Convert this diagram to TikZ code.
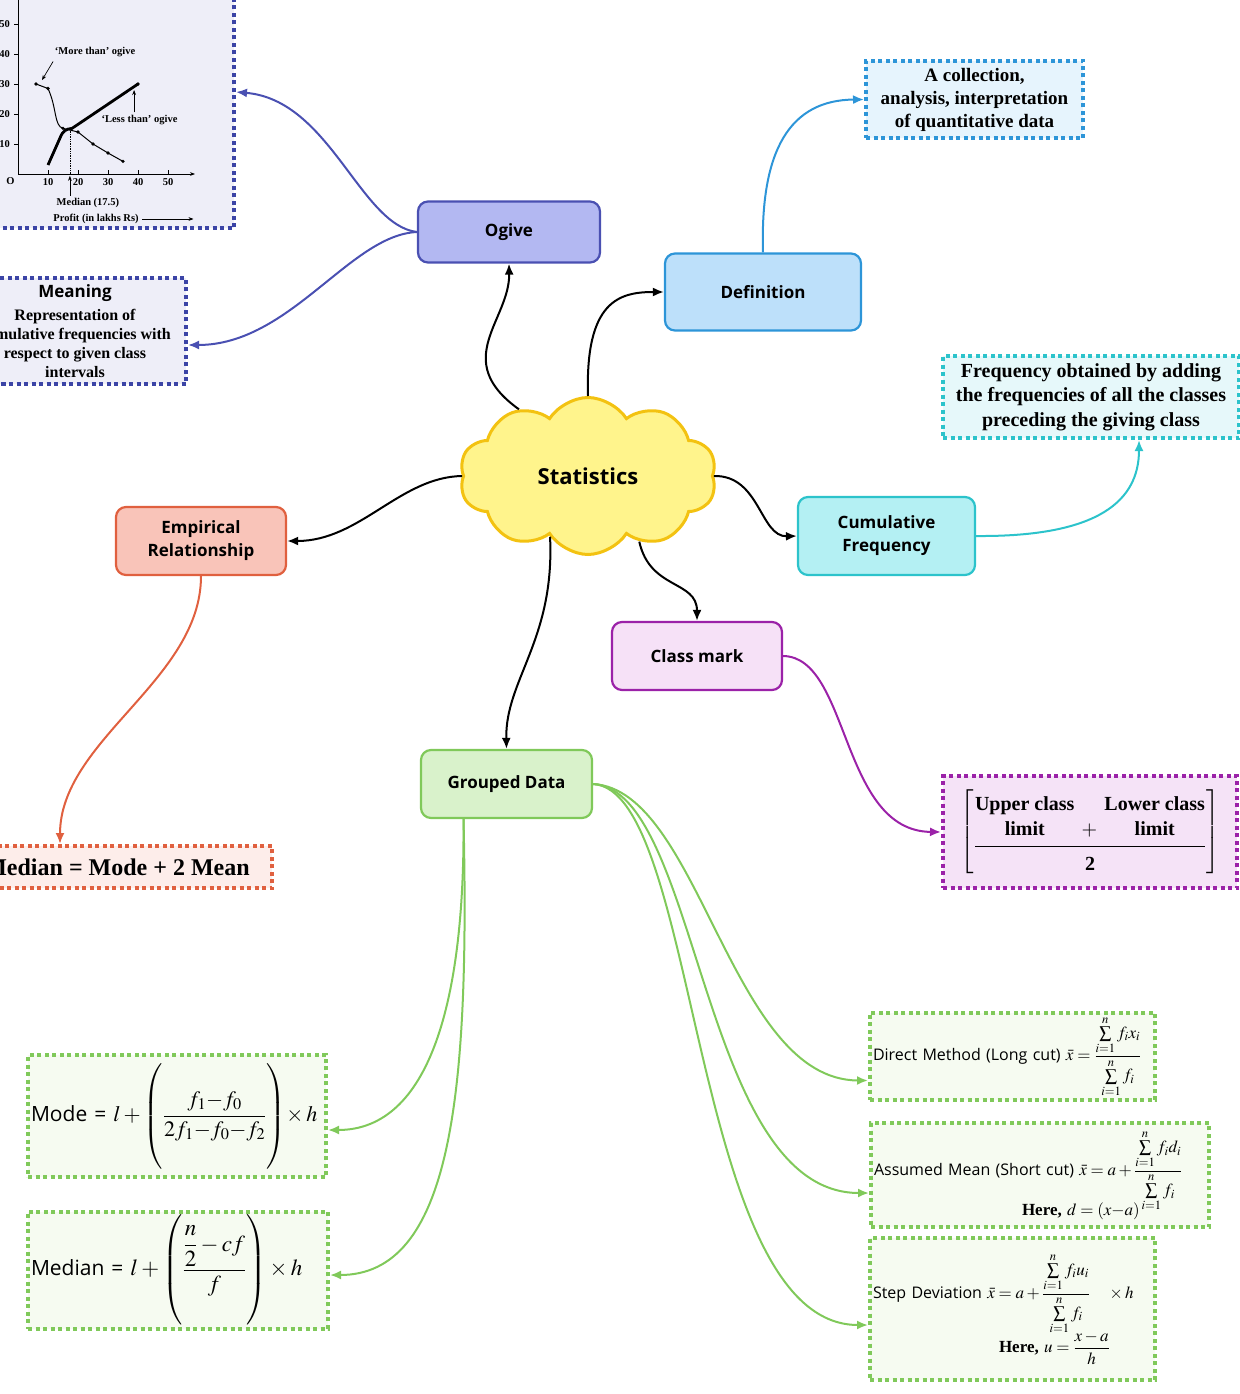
\documentclass[tikz,border=0pt]{standalone}
\usepackage{amsmath}
\usepackage{mathptmx}
\usepackage{fontspec}
\setmainfont{Liberation Serif}
\setsansfont{Open Sans}
\usetikzlibrary{shapes.symbols,arrows.meta}

\definecolor{ogivefill}{HTML}{B3B8F2}
\definecolor{ogiveline}{HTML}{4A50B2}
\definecolor{ogivenote}{HTML}{EEEEF8}
\definecolor{ogivedot}{HTML}{3B44A6}
\definecolor{deffill}{HTML}{BDE0FA}
\definecolor{defline}{HTML}{2D95D8}
\definecolor{defnote}{HTML}{E6F4FD}
\definecolor{cumfill}{HTML}{B4F0F3}
\definecolor{cumline}{HTML}{2CC3CB}
\definecolor{cumnote}{HTML}{E6F8FA}
\definecolor{empfill}{HTML}{F9C4B9}
\definecolor{empline}{HTML}{E0603F}
\definecolor{empnote}{HTML}{FDEDEA}
\definecolor{classfill}{HTML}{F6E1F7}
\definecolor{classline}{HTML}{9B22A8}
\definecolor{classnote}{HTML}{F5E3F7}
\definecolor{groupfill}{HTML}{D9F2CB}
\definecolor{groupline}{HTML}{80C95A}
\definecolor{groupnote}{HTML}{F6FBF1}
\definecolor{statfill}{HTML}{FFF48C}
\definecolor{statline}{HTML}{F3C211}

\begin{document}
\begin{tikzpicture}[x=1pt,y=-1pt,
>={Latex[length=11pt,width=9pt]},
topic/.style={rectangle, rounded corners=10pt, line width=2.2pt, font=\sffamily\bfseries\fontsize{17}{23}\selectfont, align=center},
notebox/.style={rectangle, line width=4pt, dash pattern=on 4pt off 3.5pt, align=center, font=\bfseries\fontsize{19}{23}\selectfont},
formula/.style={notebox, draw=groupline, fill=groupnote, align=left, inner xsep=3pt, font=\sffamily\fontsize{16}{20}\selectfont},
link/.style={->, line width=2pt},
]
\useasboundingbox (0,0) rectangle (1239,1394);

\node[cloud, cloud puffs=10, cloud puff arc=115, aspect=1.64, draw=statline, fill=statfill, line width=3pt,
      minimum width=257pt, minimum height=157pt, font=\sffamily\bfseries\fontsize{22}{26}\selectfont] (stat) at (588,476) {Statistics};

\node[topic, draw=ogiveline, fill=ogivefill, minimum width=182pt, minimum height=61pt] (ogive) at (509,232) {Ogive};
\node[topic, draw=defline, fill=deffill, minimum width=196pt, minimum height=77pt] (def) at (763,292) {Definition};
\node[topic, draw=cumline, fill=cumfill, minimum width=177pt, minimum height=78pt] (cum) at (886.5,536) {Cumulative\\Frequency};
\node[topic, draw=empline, fill=empfill, minimum width=170pt, minimum height=68pt] (emp) at (201,541) {Empirical\\Relationship};
\node[topic, draw=classline, fill=classfill, minimum width=170pt, minimum height=68pt] (class) at (697,656) {Class mark};
\node[topic, draw=groupline, fill=groupfill, minimum width=171pt, minimum height=68pt] (grouped) at (506.5,784) {Grouped Data};

\node[notebox, draw=ogivedot, fill=ogivenote, minimum width=254pt, minimum height=248pt] (chart) at (107,104) {};
\node[notebox, draw=ogivedot, fill=ogivenote, minimum width=222pt, minimum height=106pt, font=\bfseries\fontsize{16}{19}\selectfont] (meaning) at (75,331)
  {{\sffamily\fontsize{17}{20}\selectfont Meaning}\\[4pt]Representation of\\cumulative frequencies with\\respect to given class\\intervals};
\node[notebox, draw=defline, fill=defnote, minimum width=217pt, minimum height=77pt] (defnote) at (974.5,99.5)
  {A collection,\\analysis, interpretation\\of quantitative data};
\node[notebox, draw=cumline, fill=cumnote, minimum width=296pt, minimum height=82pt, font=\bfseries\fontsize{20}{24.5}\selectfont] (cumnote) at (1091,397)
  {Frequency obtained by adding\\the frequencies of all the classes\\preceding the giving class};
\node[notebox, draw=empline, fill=empnote, minimum width=310pt, minimum height=42pt, font=\bfseries\fontsize{24}{26}\selectfont] (empnote) at (117,867)
  {Median = Mode + 2 Mean};
\node[notebox, draw=classline, fill=classnote, minimum width=294pt, minimum height=112pt, inner xsep=1pt, font=\bfseries\fontsize{20}{25}\selectfont] (classnote) at (1090,832)
  {$\left[\vcenter{\hbox{$\dfrac{\text{\begin{tabular}[b]{@{}c@{}}Upper class\\limit\end{tabular}}\;+\;\text{\begin{tabular}[b]{@{}c@{}}Lower class\\limit\end{tabular}}}{\rule{0pt}{22pt}\text{2}}$}}\right]$};

\node[formula, minimum width=298pt, minimum height=122pt, text width=292pt, font=\sffamily\fontsize{21}{26}\selectfont] (mode) at (177,1116)
  {\mbox{Mode = {\fontsize{22}{26}\selectfont$l+\left(\rule[-46pt]{0pt}{100pt}\dfrac{f_1{-}f_0}{2f_1{-}f_0{-}f_2}\right)\!\times h$}}};
\node[formula, minimum width=300pt, minimum height=116pt, text width=294pt, font=\sffamily\fontsize{21}{26}\selectfont] (median) at (178,1270)
  {\mbox{Median = {\fontsize{23}{28}\selectfont$l+\left(\rule[-48pt]{0pt}{100pt}\dfrac{\dfrac{n}{2}-cf}{f}\right)\times h$}}};
\node[formula, minimum width=285pt, minimum height=83pt, text width=279pt] (direct) at (1012.5,1056.5)
  {Direct Method (Long cut) {\fontsize{17}{20}\selectfont$\bar{x}=\dfrac{\sum\limits_{i=1}^{n}f_ix_i}{\sum\limits_{i=1}^{n}f_i}$}};
\node[formula, minimum width=338pt, minimum height=104pt, text width=332pt] (assumed) at (1040,1175)
  {Assumed Mean (Short cut) {\fontsize{17}{20}\selectfont$\bar{x}=a+\dfrac{\sum\limits_{i=1}^{n}f_id_i}{\sum\limits_{i=1}^{n}f_i}$}\\[-10pt]
   \hspace*{148pt}{\rmfamily\bfseries\fontsize{17}{20}\selectfont Here, $d=(x{-}a)$}};
\node[formula, minimum width=285pt, minimum height=142pt, text width=279pt] (step) at (1012.5,1309)
  {Step Deviation {\fontsize{17}{20}\selectfont$\bar{x}=a+\dfrac{\sum\limits_{i=1}^{n}f_iu_i}{\sum\limits_{i=1}^{n}f_i}\quad\times h$}\\[-4pt]
   \hspace*{126pt}{\rmfamily\bfseries\fontsize{17}{20}\selectfont Here, $u=\dfrac{x-a}{h}$}};

\begin{scope}[shift={(18,174)}, x=3pt, y=3pt, font=\bfseries\fontsize{10.5}{12}\selectfont, >={Stealth[length=5pt]}]
\draw[->, line width=0.8pt] (0,0) -- (59,0);
\draw[line width=0.8pt] (0,0) -- (0,60);
\foreach \v in {10,20,...,50} {
  \draw[line width=0.8pt] (\v,0) -- (\v,1.2);
  \draw[line width=0.8pt] (0,\v) -- (-1.2,\v);
  \node[below=1pt] (xt\v) at (\v,0) {\v};
  \node[left=1pt] (yt\v) at (-1.2,\v) {\v};
}
\node[anchor=north east] (orig) at (0,0) {O};
\draw[line width=2.8pt, line join=round] (10,3) -- (14,12) .. controls (15,14.5) and (16,15) .. (18,15.2) -- (40,30);
\draw[line width=1pt] (6,30) -- (10,28.5) .. controls (13,22) and (12,16) .. (15,15.2) -- (20,14) -- (25,10) -- (30,7) -- (35,4.2);
\foreach \p in {(6,30),(10,28.5),(15,15.2),(20,14),(25,10),(30,7),(35,4.2),(40,30)}
  \fill \p circle (0.6);
\draw[densely dotted, line width=0.7pt] (17.5,15) -- (17.5,0);
\node (moretxt) at (25.7,40.7) {`More than' ogive};
\draw[->, line width=0.7pt] (11.7,37.5) -- (8,31.3);
\node (lesstxt) at (40.5,18) {`Less than' ogive};
\draw[->, line width=0.7pt] (38.7,20.5) -- (38.7,28);
\node (medtxt) at (23.3,-9.7) {Median (17.5)};
\draw[->, line width=0.7pt] (17.3,-7.3) -- (17.3,-0.6);
\node (profit) at (26,-15) {Profit (in lakhs Rs)};
\draw[->, line width=0.7pt] (profit.east) -- (58.5,-15);
\end{scope}

\draw[link] (stat.136) .. controls (450,360) and (510,320) .. (ogive.south);
\draw[link] (stat.90) .. controls (585,300) and (620,292) .. (def.west);
\draw[link] (stat.180) .. controls (400,477) and (360,541) .. (emp.east);
\draw[link] (stat.0) .. controls (760,475) and (760,537) .. (cum.west);
\draw[link] (stat.-52) .. controls (650,590) and (697,580) .. (class.north);
\draw[link] (stat.-122) .. controls (555,640) and (505,680) .. (grouped.north);

\draw[link, ogiveline] (ogive.west) .. controls (360,225) and (330,100) .. ([yshift=12pt]chart.east);
\draw[link, ogiveline] (ogive.west) .. controls (350,235) and (290,345) .. ([yshift=-14pt]meaning.east);
\draw[link, defline] (def.north) .. controls (760,150) and (790,100) .. (defnote.west);
\draw[link, cumline] (cum.east) .. controls (1100,537) and (1139,500) .. ([xshift=48pt]cumnote.south);
\draw[link, empline] (emp.south) .. controls (201,680) and (60,740) .. ([xshift=-57pt]empnote.north);
\draw[link, classline] (class.east) .. controls (850,657) and (840,831) .. (classnote.west);

\draw[link, groupline] ([xshift=-43pt]grouped.south) .. controls (465,1000) and (430,1130) .. ([yshift=-14pt]mode.east);
\draw[link, groupline] ([xshift=-43pt]grouped.south) .. controls (470,1100) and (450,1275) .. ([yshift=-5pt]median.east);
\draw[link, groupline] (grouped.east) .. controls (700,790) and (730,1080) .. ([yshift=-24pt]direct.west);
\draw[link, groupline] (grouped.east) .. controls (700,790) and (700,1193) .. ([yshift=-18pt]assumed.west);
\draw[link, groupline] (grouped.east) .. controls (700,790) and (690,1325) .. ([yshift=-16pt]step.west);
\end{tikzpicture}
\end{document}
